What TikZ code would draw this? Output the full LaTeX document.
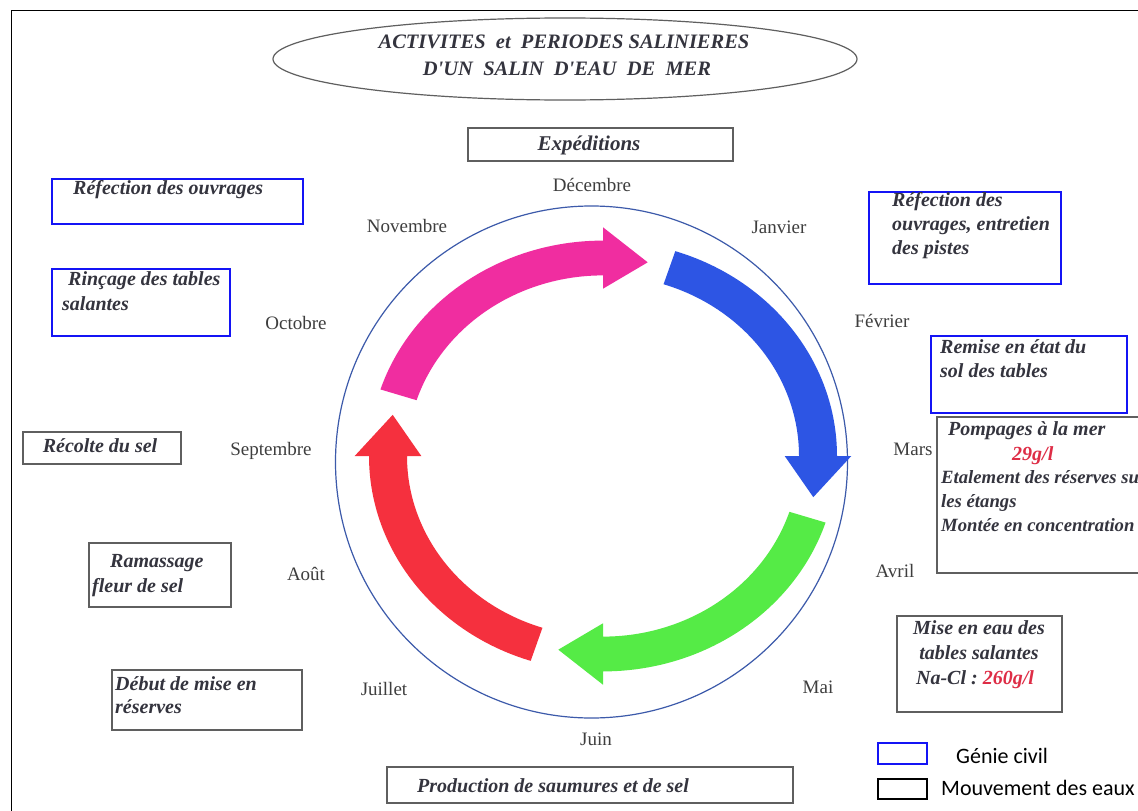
\documentclass[tikz,border=0pt]{standalone}
\usepackage{fontspec}
\setmainfont{Liberation Serif}
\newfontfamily\legfont{Carlito}
\usetikzlibrary{calc}
\definecolor{txt}{RGB}{52,52,62}
\definecolor{mtxt}{RGB}{62,62,62}
\definecolor{redn}{RGB}{222,45,70}
\definecolor{boxgray}{RGB}{95,95,95}
\definecolor{civblue}{RGB}{20,20,245}
\definecolor{circblue}{RGB}{60,90,170}
\definecolor{arPink}{RGB}{240,45,160}
\definecolor{arBlue}{RGB}{45,85,228}
\definecolor{arGreen}{RGB}{85,235,70}
\definecolor{arRed}{RGB}{245,48,62}
\tikzset{
  gbox/.style={draw=boxgray,line width=1.4pt,inner sep=0pt},
  bbox/.style={draw=civblue,line width=1.8pt,inner sep=0pt},
  bi/.style={font=\fontsize{20}{24}\selectfont\bfseries\itshape,text=txt,inner sep=0pt,anchor=base west},
  bis/.style={bi,font=\fontsize{18.7}{24}\selectfont\bfseries\itshape},
  bic/.style={bi,anchor=base},
  month/.style={font=\fontsize{19}{22}\selectfont,text=mtxt,inner sep=0pt,anchor=base},
  leg/.style={font=\fontsize{22}{26}\selectfont\legfont,text=black,inner sep=0pt,anchor=base west}
}
\newcommand\cycarrow[2]{%
  \pgfmathsetmacro\angA{#1}\pgfmathsetmacro\angB{#1-72}\pgfmathsetmacro\angC{#1-84}%
  \fill[#2] ($(C)+(\angA:234pt and 215.4pt)$)
    arc[start angle=\angA,end angle=\angB,x radius=234pt,y radius=215.4pt]
    -- ($(C)+(\angB:248.3pt and 228.7pt)$)
    -- ($(C)+(\angC:215pt and 198pt)$)
    -- ($(C)+(\angB:181.7pt and 167.3pt)$)
    -- ($(C)+(\angB:196pt and 180.6pt)$)
    arc[start angle=\angB,end angle=\angA,x radius=196pt,y radius=180.6pt]
    -- cycle;}
\begin{document}
\begin{tikzpicture}[x=1pt,y=1pt]
\useasboundingbox (0,0) rectangle (1138,-811);
\clip (0,0) rectangle (1138,-811);
\fill[white] (0,0) rectangle (1138,-811);
% frame
\draw[line width=1.6pt,black] (11.5,-811) -- (11.5,-10.5) -- (1138,-10.5);
% title
\draw[boxgray,line width=1.2pt] (565,-59) ellipse[x radius=292pt,y radius=41pt];
\node[bic,font=\fontsize{20.5}{24}\selectfont\bfseries\itshape] (title1) at (564,-48) {ACTIVITES\ \ et\ \ PERIODES SALINIERES};
\node[bic,font=\fontsize{20.5}{24}\selectfont\bfseries\itshape] (title2) at (567,-75) {D\textquotesingle UN\ \ SALIN\ \ D\textquotesingle EAU\ \ DE\ \ MER};
% circle and arrows
\draw[circblue,line width=1.2pt] (591.5,-462) circle[radius=256pt];
\coordinate (C) at (603,-456);
\cycarrow{72}{arBlue}
\cycarrow{-18}{arGreen}
\cycarrow{-108}{arRed}
\cycarrow{162}{arPink}
% months
\node[month] (dec) at (592,-191) {Décembre};
\node[month] (jan) at (779,-233) {Janvier};
\node[month] (fev) at (882,-327) {Février};
\node[month] (mar) at (913,-455) {Mars};
\node[month] (avr) at (895,-577) {Avril};
\node[month] (mai) at (818,-693) {Mai};
\node[month] (jun) at (596,-745) {Juin};
\node[month] (jul) at (384,-695) {Juillet};
\node[month] (aou) at (306,-580) {Août};
\node[month] (sep) at (271,-455) {Septembre};
\node[month] (oct) at (296,-329) {Octobre};
\node[month] (nov) at (407,-232) {Novembre};
% boxes
\node[gbox,minimum width=265pt,minimum height=33pt] (expB) at (600.5,-144.5) {};
\node[bic,font=\fontsize{21}{24}\selectfont\bfseries\itshape] (expT) at (589,-150) {Expéditions};

\node[bbox,minimum width=251pt,minimum height=45pt] (ref1B) at (177.5,-201.5) {};
\node[bi] (ref1T) at (73,-194) {Réfection des ouvrages};

\node[bbox,minimum width=178pt,minimum height=67pt] (rincB) at (141,-302.5) {};
\node[bi] (rincT1) at (68,-285) {Rinçage des tables};
\node[bi] (rincT2) at (62,-310) {salantes};

\node[bbox,minimum width=192pt,minimum height=92pt] (ref2B) at (965,-238) {};
\node[bi] (ref2T1) at (892,-206) {Réfection des};
\node[bi] (ref2T2) at (892,-230) {ouvrages, entretien};
\node[bi] (ref2T3) at (892,-254) {des pistes};

\node[bbox,minimum width=196pt,minimum height=77pt] (remB) at (1029,-374.5) {};
\node[bi] (remT1) at (940,-353) {Remise en état du};
\node[bi] (remT2) at (940,-377) {sol des tables};

\node[gbox,minimum width=213pt,minimum height=156pt] (pompB) at (1043.5,-495) {};
\node[bi] (pompT1) at (948,-435) {Pompages à la mer};
\node[bi,text=redn] (pompT2) at (1012,-460) {29g/l};
\node[bis] (pompT3) at (941,-483) {Etalement des réserves su};
\node[bis] (pompT4) at (941,-507) {les étangs};
\node[bis] (pompT5) at (941,-531) {Montée en concentration};

\node[gbox,minimum width=165pt,minimum height=96pt] (miseB) at (979.5,-664) {};
\node[bic] (miseT1) at (979,-634) {Mise en eau des};
\node[bic] (miseT2) at (979,-659) {tables salantes};
\node[bic] (miseT3) at (975,-684) {Na-Cl :\ \textcolor{redn}{260g/l}};

\node[gbox,minimum width=158pt,minimum height=32pt] (recB) at (102,-448) {};
\node[bic] (recT) at (100,-452) {Récolte du sel};

\node[gbox,minimum width=142pt,minimum height=64pt] (ramB) at (160,-575) {};
\node[bi] (ramT1) at (110,-567) {Ramassage};
\node[bi] (ramT2) at (92,-592) {fleur de sel};

\node[gbox,minimum width=190pt,minimum height=60pt] (debB) at (207,-700) {};
\node[bi] (debT1) at (115,-690) {Début de mise en};
\node[bi] (debT2) at (115,-713) {réserves};

\node[gbox,minimum width=406pt,minimum height=36pt] (prodB) at (590,-785) {};
\node[bi] (prodT) at (417,-792) {Production de saumures et de sel};
% legend
\node[draw=civblue,line width=1.4pt,inner sep=0pt,minimum width=49pt,minimum height=21pt] (legB1) at (902.5,-753.5) {};
\node[leg] (legT1) at (956,-763) {Génie civil};
\node[draw=black,line width=1.4pt,inner sep=0pt,minimum width=49pt,minimum height=20pt] (legB2) at (902.5,-789) {};
\node[leg] (legT2) at (941,-795) {Mouvement des eaux};
\end{tikzpicture}
\end{document}
